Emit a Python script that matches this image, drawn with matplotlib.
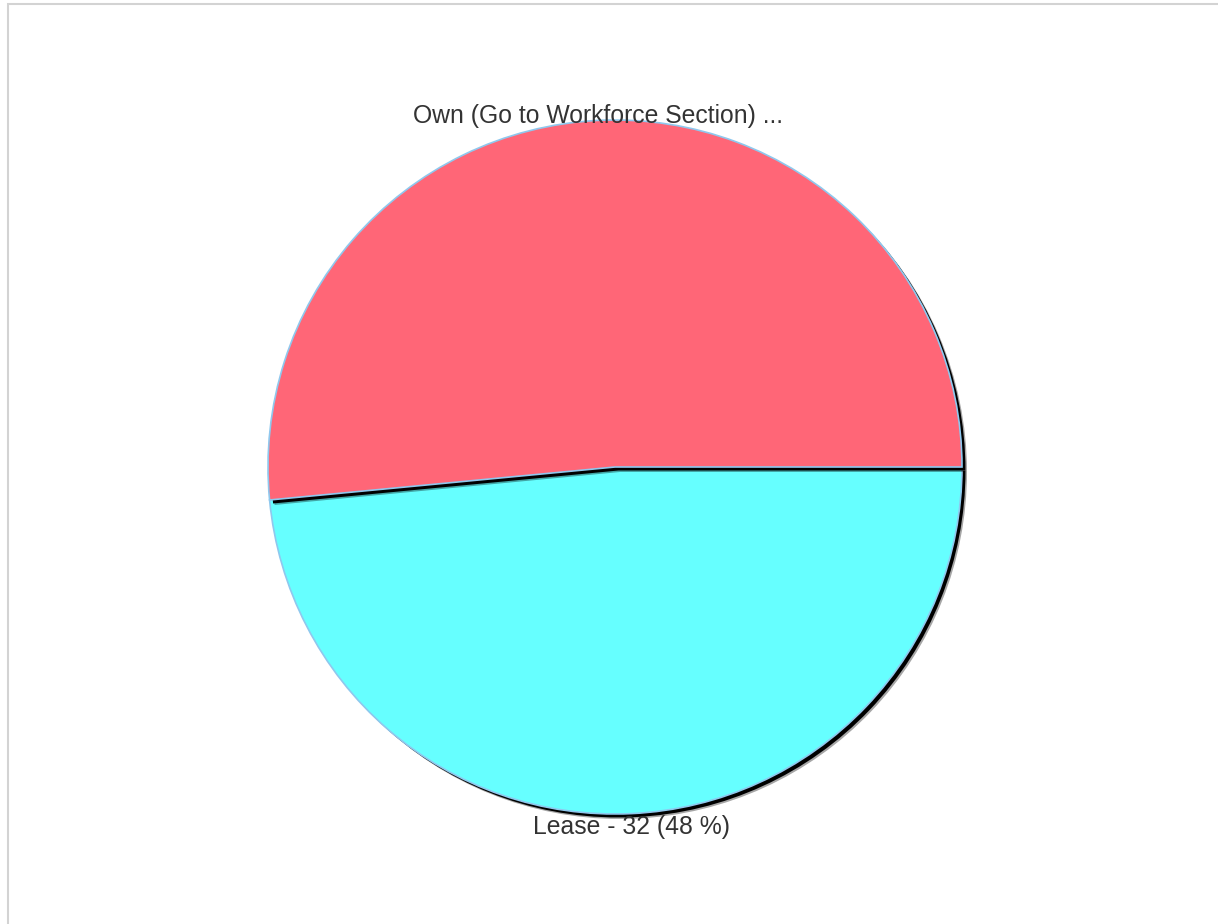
import numpy as np
import matplotlib
matplotlib.use('Agg')
from matplotlib import pyplot as plt
from matplotlib.patches import Rectangle

labels = ['Own (Go to Workforce Section) ...', 'Lease - 32 (48 %)']
values = [34, 32]
colors = ['#ff6677', '#66ffff']

W, H = 1218, 924
cx, cy, r = 615, H - 467, 347

plt.rcParams['font.family'] = ['Liberation Sans', 'DejaVu Sans']

fig = plt.figure(figsize=(W / 100, H / 100), dpi=100)
ax = fig.add_axes([0, 0, 1, 1])

# shadow first (black, shifted right/down, soft outer part), then the slices
blur, _ = ax.pie(values, colors=['black'] * len(values), startangle=0,
                 counterclock=True, center=(cx + 5, cy - 5), radius=r,
                 wedgeprops=dict(linewidth=0, alpha=0.35))
shadow, _ = ax.pie(values, colors=['black'] * len(values), startangle=0,
                   counterclock=True, center=(cx + 3.5, cy - 3.5), radius=r,
                   wedgeprops=dict(linewidth=0))
wedges, _ = ax.pie(values, colors=colors, startangle=0, counterclock=True,
                   center=(cx, cy), radius=r,
                   wedgeprops=dict(edgecolor='#8fc8ee', linewidth=1.2))

# later slices are drawn underneath earlier ones
n = len(values)
for i, (b, s, w) in enumerate(zip(blur, shadow, wedges)):
    b.set_zorder(3 * (n - i))
    s.set_zorder(3 * (n - i) + 1)
    w.set_zorder(3 * (n - i) + 2)

total = sum(values)
start = 0.0
for lab, v in zip(labels, values):
    mid = np.deg2rad(start + 180.0 * v / total)
    x = cx + 1.025 * r * np.cos(mid)
    y = cy + 1.025 * r * np.sin(mid) - 4.5
    ax.text(x, y, lab, ha='center', va='center', fontsize=17.8,
            color='#333333', zorder=20)
    start += 360.0 * v / total

ax.add_patch(Rectangle((8, -20), W + 40, H - 4 + 20, fill=False,
                       edgecolor='#d3d3d3', linewidth=1.5, zorder=0))

ax.set_xlim(0, W)
ax.set_ylim(0, H)
ax.set_aspect('auto')
ax.axis('off')

fig.savefig('out.png', dpi=100)
